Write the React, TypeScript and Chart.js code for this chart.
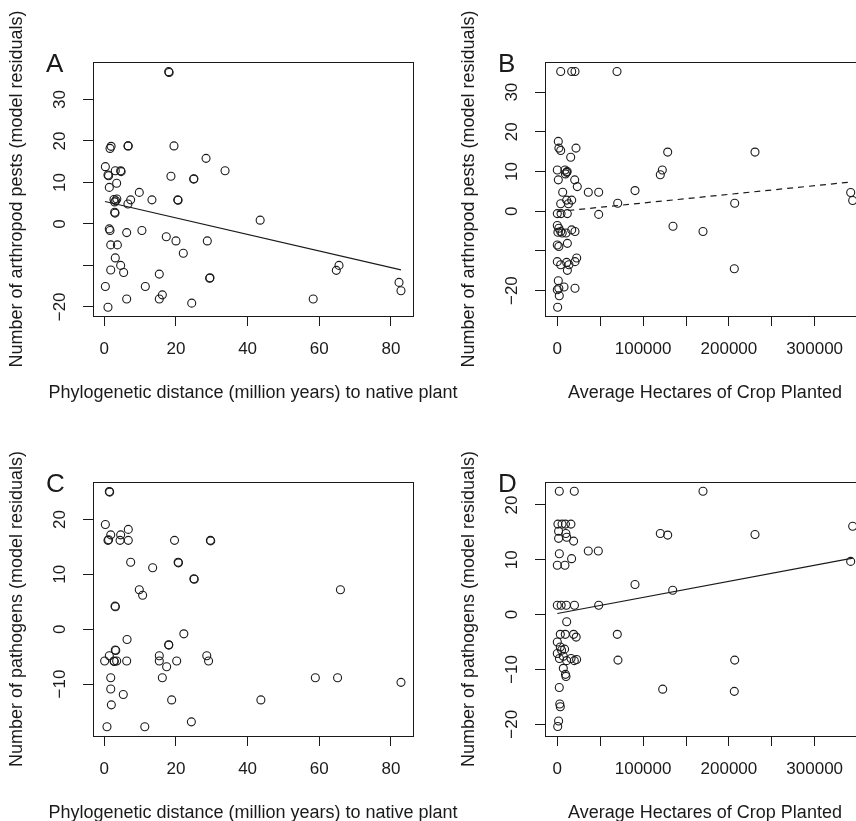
import React, { useEffect, useRef } from 'react';
import { Chart, registerables } from 'chart.js';

Chart.register(...registerables);

type Pt = [number, number];

// ---------- data ----------
// Panel A: arthropod pests (residuals) vs phylogenetic distance (Myr)
const pestsByDistance: Pt[] = [
  [17.97, 36.7], [18.1, 36.5], [1.6, 18.2], [1.9, 18.7], [6.6, 18.8], [6.7, 18.8], [19.45, 18.8],
  [28.4, 15.8], [0.3, 13.8], [3.07, 12.8], [4.57, 12.8], [4.7, 12.6], [33.7, 12.8], [1.03, 11.8],
  [1.2, 11.6], [18.6, 11.5], [24.95, 10.8], [25.0, 10.9], [1.4, 8.8], [3.45, 9.8], [9.77, 7.6],
  [2.7, 5.9], [3.2, 5.6], [3.5, 6.0], [2.9, 5.3], [7.36, 5.8], [13.3, 5.8], [20.5, 5.8], [20.6, 5.7],
  [6.6, 4.8], [2.9, 2.8], [3.0, 2.6], [43.5, 0.9], [1.4, -1.2], [1.6, -1.6], [6.25, -2.1],
  [10.5, -1.6], [17.3, -3.1], [20.0, -4.1], [28.75, -4.1], [1.8, -5.06], [3.65, -5.06],
  [22.05, -7.06], [3.07, -8.2], [1.8, -11.1], [4.57, -10.0], [5.4, -11.7], [15.35, -12.1],
  [29.4, -13.1], [29.5, -13.0], [0.3, -15.1], [11.45, -15.1], [6.25, -18.1], [15.35, -18.1],
  [16.2, -17.1], [24.4, -19.1], [1.03, -20.1], [65.5, -10.0], [64.75, -11.2], [58.3, -18.1],
  [82.25, -14.1], [82.8, -16.1],
];
const pestsByDistanceFit: Pt[] = [[0.2, 5.4], [82.8, -11.1]];

// Panel B: arthropod pests (residuals) vs average hectares planted
const pestsByArea: Pt[] = [
  [3963, 35.2], [16783, 35.2], [20630, 35.2], [69580, 35.2],
  [1166, 17.6], [1865, 15.9], [3963, 15.3], [21795, 15.9], [15618, 13.6],
  [0, 10.4], [8970, 10.4], [10955, 9.8], [9500, 9.4], [11500, 10.0],
  [1166, 7.9], [20280, 7.9], [23300, 6.2], [6290, 4.8], [36130, 4.8], [48250, 4.8], [90560, 5.2],
  [3963, 1.9], [10900, 2.8], [16783, 2.8], [13000, 1.9], [70400, 2.0],
  [0, -0.6], [4350, -0.6], [11660, -0.6], [48250, -0.8],
  [0, -3.6], [1800, -4.3], [3963, -5.1], [5700, -5.5], [700, -5.3], [10140, -5.5], [16783, -4.7], [20630, -5.1],
  [0, -8.5], [1800, -8.9], [11750, -8.1],
  [0, -12.7], [3963, -13.5], [10900, -12.9], [13600, -13.5], [11750, -14.9], [20630, -12.7], [22600, -11.8],
  [1166, -17.5], [0, -19.8], [1800, -19.4], [7800, -19.1], [20630, -19.4], [2300, -21.3], [400, -24.2],
  [128670, 14.9], [122380, 10.4], [120050, 9.2], [134850, -3.8], [169810, -5.1], [206760, 2.0],
  [230420, 14.9], [206300, -14.5], [341950, 4.7], [344280, 2.7],
];
const pestsByAreaFit: Pt[] = [[0, -0.1], [344280, 7.4]];

// Panel C: pathogens (residuals) vs phylogenetic distance
const pathogensByDistance: Pt[] = [
  [1.4, 25.1], [1.5, 25.0], [0.3, 19.1], [1.8, 17.2], [4.57, 17.2], [6.7, 18.2],
  [1.03, 16.2], [1.2, 16.3], [4.4, 16.2], [6.7, 16.2], [19.6, 16.2], [29.6, 16.2], [29.7, 16.1],
  [7.36, 12.2], [13.5, 11.2], [20.6, 12.2], [20.7, 12.1], [25.0, 9.2], [25.1, 9.1],
  [9.77, 7.2], [10.7, 6.2], [3.0, 4.2], [3.1, 4.1],
  [6.35, -1.87], [22.2, -0.85], [17.97, -2.85], [18.0, -2.9], [3.07, -3.8], [3.2, -3.9], [1.4, -4.85],
  [0.1, -5.8], [2.7, -5.8], [2.8, -5.9], [3.45, -5.8], [6.25, -5.8], [15.35, -4.85], [15.35, -5.8],
  [17.4, -6.85], [20.2, -5.8], [28.6, -4.85], [29.1, -5.8],
  [1.8, -8.85], [16.2, -8.85], [1.8, -10.9], [5.3, -11.9], [18.8, -12.9], [1.97, -13.8], [43.7, -12.9],
  [0.75, -17.8], [11.3, -17.8], [24.3, -16.9],
  [65.9, 7.2], [58.9, -8.85], [65.1, -8.85], [82.8, -9.7],
];

// Panel D: pathogens (residuals) vs average hectares planted
const pathogensByArea: Pt[] = [
  [2330, 22.5], [19800, 22.5], [169810, 22.5],
  [700, 16.5], [5500, 16.5], [9500, 16.5], [15900, 16.5],
  [1500, 15.2], [10000, 14.8], [1500, 13.9], [11000, 14.1], [19000, 13.4],
  [2370, 11.1], [36130, 11.6], [47790, 11.6], [0, 9.0], [8900, 9.0], [16660, 10.2],
  [90560, 5.5],
  [0, 1.7], [4500, 1.7], [10500, 1.7], [20000, 1.7], [48250, 1.7],
  [10950, -1.3],
  [3500, -3.6], [9300, -3.6], [19000, -3.6], [22000, -4.1], [0, -5.0], [3500, -5.9], [5000, -6.5],
  [8500, -6.3], [0, -7.1], [2500, -8.0], [7000, -7.6], [10950, -8.4], [16000, -8.0], [19800, -8.4], [22500, -8.2],
  [69930, -3.6], [70700, -8.3],
  [7000, -9.8], [9500, -10.9], [10140, -11.3],
  [2300, -13.3], [2900, -16.3], [3500, -16.8], [1500, -19.4], [500, -20.4],
  [120050, 14.8], [128670, 14.5], [230420, 14.6], [344280, 16.1], [341950, 9.7], [134500, 4.45],
  [206760, -8.3], [122840, -13.6], [206300, -14.0],
];
const pathogensByAreaFit: Pt[] = [[0, 0.2], [344280, 10.3]];

// ticks
const distanceTicks = [0, 20, 40, 60, 80];
const distanceTickLabels = ['0', '20', '40', '60', '80'];
const areaTicks = [0, 50000, 100000, 150000, 200000, 250000, 300000, 350000];
const areaTickLabels = ['0', '', '100000', '', '200000', '', '300000', ''];
const pestTicks = [-20, -10, 0, 10, 20, 30];
const pestTickLabels = ['\u221220', '', '0', '10', '20', '30'];
const pathTicksC = [-10, 0, 10, 20];
const pathTickLabelsC = ['\u221210', '0', '10', '20'];
const pathTicksD = [-20, -10, 0, 10, 20];
const pathTickLabelsD = ['\u221220', '\u221210', '0', '10', '20'];

const xTitleDistance = 'Phylogenetic distance (million years) to native plant';
const xTitleArea = 'Average Hectares of Crop Planted';
const yTitlePests = 'Number of arthropod pests (model residuals)';
const yTitlePathogens = 'Number of pathogens (model residuals)';

// ---------- styling / layout ----------
const FONT = '"Liberation Sans", Arial, Helvetica, sans-serif';
const INK = '#1a1a1a';
const CW = 480; // canvas width
const CH = 420; // canvas height
const AREA_LEFT = 93;
const AREA_RIGHT = 413;
const AREA_TOP = 62;
const AREA_BOTTOM = 316;

interface PanelSpec {
  letter: string;
  left: number;
  top: number;
  points: Pt[];
  fit: Pt[] | null;
  dashed: boolean;
  xMin: number; xMax: number; yMin: number; yMax: number;
  xTicks: number[]; xLabels: string[];
  yTicks: number[]; yLabels: string[];
  xTitle: string; yTitle: string;
}

const panels: PanelSpec[] = [
  {
    letter: 'A', left: 0, top: 0, points: pestsByDistance, fit: pestsByDistanceFit, dashed: false,
    xMin: -3.15, xMax: 86.15, yMin: -22.2, yMax: 39.03,
    xTicks: distanceTicks, xLabels: distanceTickLabels, yTicks: pestTicks, yLabels: pestTickLabels,
    xTitle: xTitleDistance, yTitle: yTitlePests,
  },
  {
    letter: 'B', left: 452, top: 0, points: pestsByArea, fit: pestsByAreaFit, dashed: true,
    xMin: -14336, xMax: 358625, yMin: -26.4, yMax: 37.6,
    xTicks: areaTicks, xLabels: areaTickLabels, yTicks: pestTicks, yLabels: pestTickLabels,
    xTitle: xTitleArea, yTitle: yTitlePests,
  },
  {
    letter: 'C', left: 0, top: 420, points: pathogensByDistance, fit: null, dashed: false,
    xMin: -3.15, xMax: 86.15, yMin: -19.48, yMax: 26.84,
    xTicks: distanceTicks, xLabels: distanceTickLabels, yTicks: pathTicksC, yLabels: pathTickLabelsC,
    xTitle: xTitleDistance, yTitle: yTitlePathogens,
  },
  {
    letter: 'D', left: 452, top: 420, points: pathogensByArea, fit: pathogensByAreaFit, dashed: false,
    xMin: -14336, xMax: 358625, yMin: -22.14, yMax: 24.18,
    xTicks: areaTicks, xLabels: areaTickLabels, yTicks: pathTicksD, yLabels: pathTickLabelsD,
    xTitle: xTitleArea, yTitle: yTitlePathogens,
  },
];

const decorPlugin = {
  id: 'decor',
  afterDraw(chart: any, _args: any, opts: any) {
    const { ctx, chartArea: a } = chart;
    ctx.save();
    ctx.strokeStyle = INK;
    ctx.lineWidth = 1;
    ctx.strokeRect(Math.round(a.left) + 0.5, Math.round(a.top) + 0.5,
      Math.round(a.right - a.left), Math.round(a.bottom - a.top));
    ctx.fillStyle = INK;
    ctx.font = `18px ${FONT}`;
    ctx.textAlign = 'center';
    ctx.textBaseline = 'alphabetic';
    ctx.fillText(opts.xTitle, (a.left + a.right) / 2, a.bottom + 82);
    ctx.save();
    ctx.translate(22, (a.top + a.bottom) / 2);
    ctx.rotate(-Math.PI / 2);
    ctx.fillText(opts.yTitle, 0, 0);
    ctx.restore();
    ctx.font = `26px ${FONT}`;
    ctx.textAlign = 'left';
    ctx.fillText(opts.letter, 46, 72);
    ctx.restore();
  },
};

function labelFor(ticks: number[], labels: string[], v: number): string {
  const i = ticks.findIndex((t) => Math.abs(t - v) < 1e-9);
  return i >= 0 ? labels[i] : '';
}

function Panel({ spec }: { spec: PanelSpec }) {
  const ref = useRef<HTMLCanvasElement>(null);
  useEffect(() => {
    if (!ref.current) return;
    const toXY = (p: Pt) => ({ x: p[0], y: p[1] });
    const datasets: any[] = [
      {
        type: 'scatter',
        data: spec.points.map(toXY),
        pointStyle: 'circle',
        pointRadius: 4,
        pointBorderWidth: 1.1,
        pointBorderColor: INK,
        pointBackgroundColor: 'rgba(0,0,0,0)',
        showLine: false,
      },
    ];
    if (spec.fit) {
      datasets.push({
        type: 'line',
        data: spec.fit.map(toXY),
        borderColor: INK,
        borderWidth: 1.2,
        borderDash: spec.dashed ? [6, 5] : [],
        pointRadius: 0,
        fill: false,
      });
    }
    const gridOpts = {
      display: true,
      drawOnChartArea: false,
      drawTicks: true,
      tickLength: 10,
      color: INK,
      tickColor: INK,
      lineWidth: 1,
    };
    const chart = new Chart(ref.current, {
      type: 'scatter',
      data: { datasets },
      options: {
        responsive: false,
        animation: false,
        devicePixelRatio: 1,
        events: [],
        layout: { padding: { left: 0, top: AREA_TOP, right: CW - AREA_RIGHT, bottom: 0 } },
        plugins: {
          legend: { display: false },
          tooltip: { enabled: false },
          decor: { letter: spec.letter, xTitle: spec.xTitle, yTitle: spec.yTitle },
        } as any,
        scales: {
          x: {
            type: 'linear',
            position: 'bottom',
            min: spec.xMin,
            max: spec.xMax,
            bounds: 'data',
            afterBuildTicks: (s: any) => { s.ticks = spec.xTicks.map((v) => ({ value: v })); },
            afterFit: (s: any) => { s.height = CH - AREA_BOTTOM; },
            grid: gridOpts,
            border: { display: false },
            ticks: {
              autoSkip: false,
              maxRotation: 0,
              minRotation: 0,
              padding: 13,
              color: INK,
              font: { family: FONT, size: 17 },
              callback: (v: any) => labelFor(spec.xTicks, spec.xLabels, Number(v)),
            },
          },
          y: {
            type: 'linear',
            position: 'left',
            min: spec.yMin,
            max: spec.yMax,
            bounds: 'data',
            afterBuildTicks: (s: any) => { s.ticks = spec.yTicks.map((v) => ({ value: v })); },
            afterFit: (s: any) => { s.width = AREA_LEFT; },
            grid: gridOpts,
            border: { display: false },
            ticks: {
              autoSkip: false,
              minRotation: 90,
              maxRotation: 90,
              crossAlign: 'center',
              padding: 8,
              color: INK,
              font: { family: FONT, size: 17 },
              callback: (v: any) => labelFor(spec.yTicks, spec.yLabels, Number(v)),
            },
          },
        } as any,
      },
      plugins: [decorPlugin],
    });
    return () => chart.destroy();
  }, [spec]);
  return (
    <canvas
      ref={ref}
      width={CW}
      height={CH}
      style={{ position: 'absolute', left: spec.left, top: spec.top, width: CW, height: CH, display: 'block' }}
    />
  );
}

export default function App() {
  return (
    <div
      style={{
        position: 'absolute', left: 0, top: 0, width: 856, height: 821,
        overflow: 'hidden', background: '#ffffff',
      }}
    >
      {panels.map((p) => (
        <Panel key={p.letter} spec={p} />
      ))}
    </div>
  );
}
